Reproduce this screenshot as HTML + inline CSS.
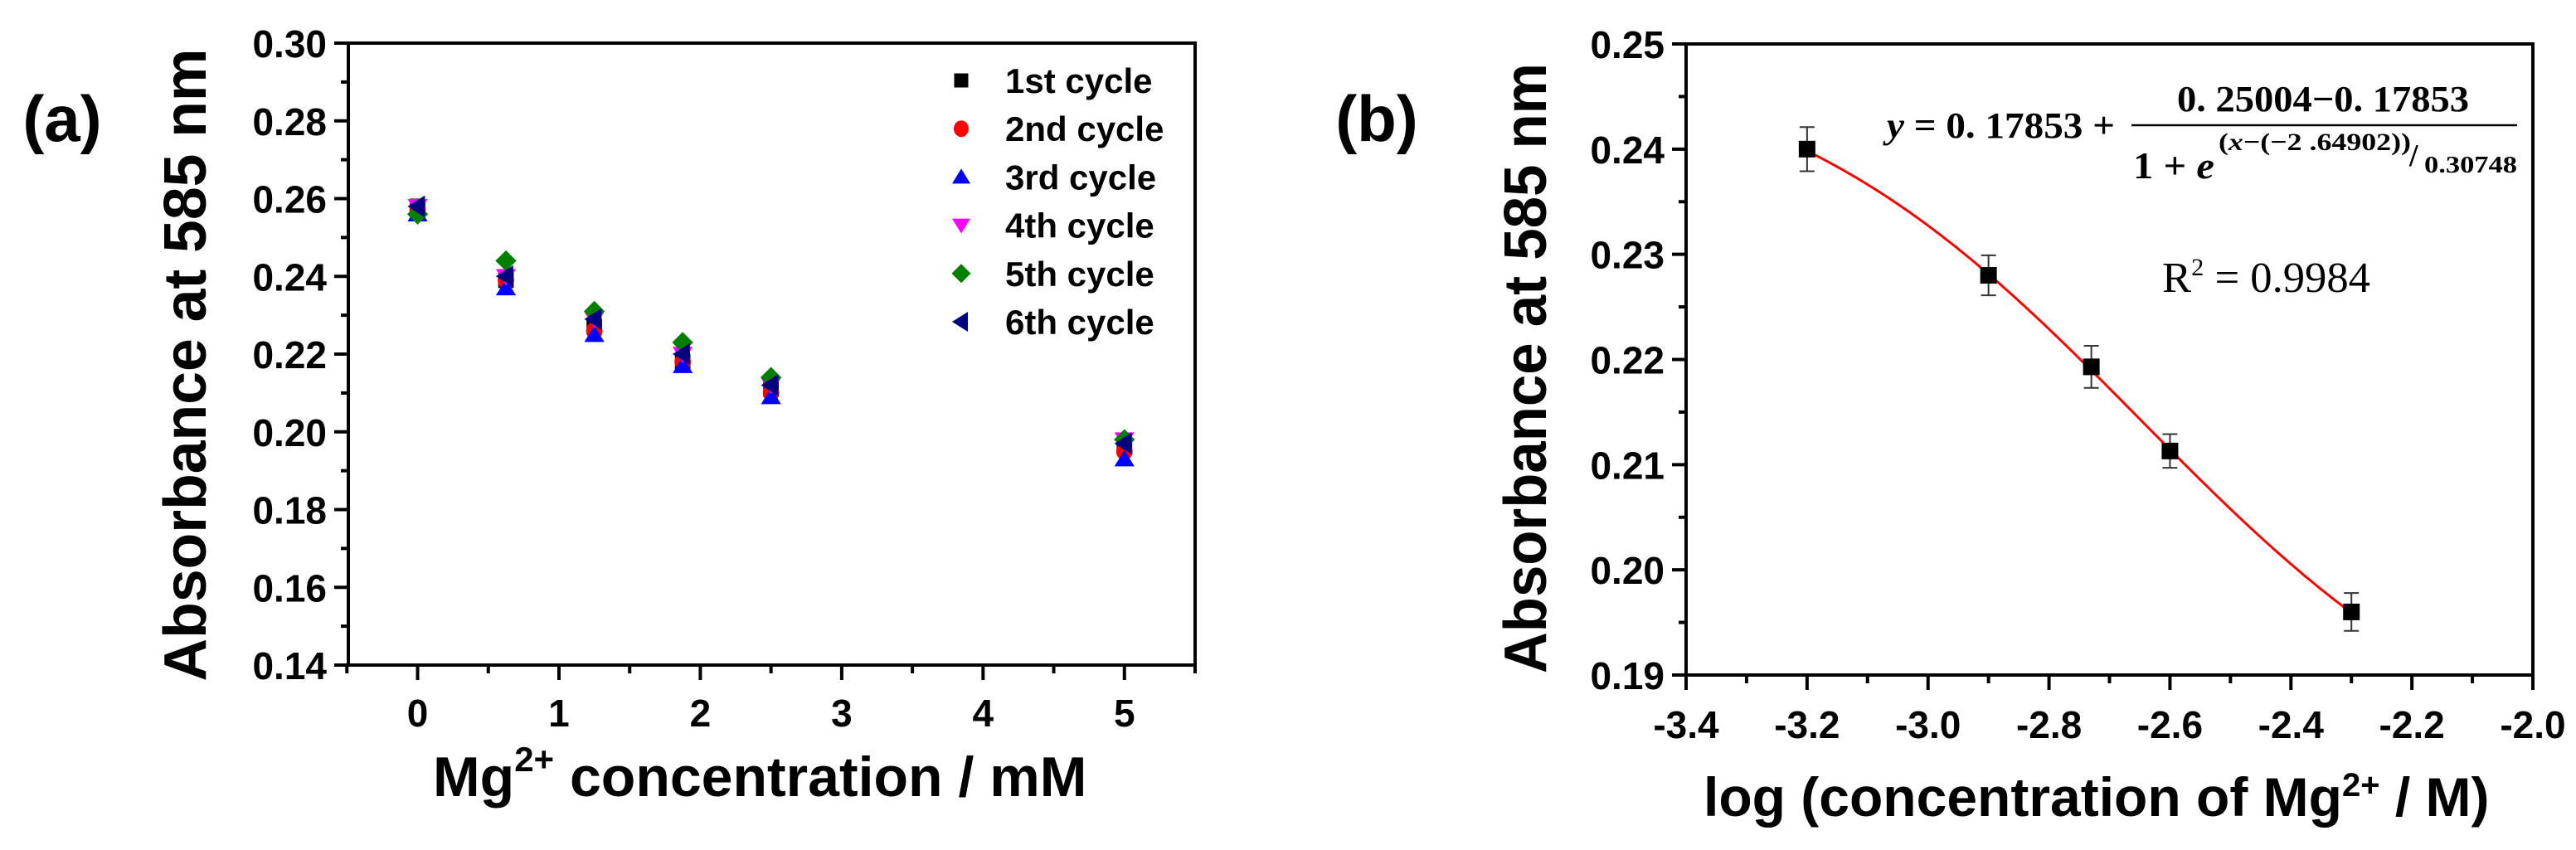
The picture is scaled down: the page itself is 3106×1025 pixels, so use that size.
<!DOCTYPE html>
<html><head><meta charset="utf-8"><style>
html,body{margin:0;padding:0;background:#fff;}
svg{display:block;}
text{font-family:"Liberation Sans",Arial,sans-serif;}
.tk{font-weight:bold;font-size:46px;}
.ser{font-family:"Liberation Serif","DejaVu Serif",serif;font-weight:bold;}
</style></head><body>
<svg id="fig" width="3106" height="1025" viewBox="0 0 3106 1025" xmlns="http://www.w3.org/2000/svg">
<text x="75" y="170" font-size="78" font-weight="bold" text-anchor="middle">(a)</text>
<text x="1660" y="170" font-size="78" font-weight="bold" text-anchor="middle">(b)</text>
<g id="pa"></g>
<g id="pb"></g>
</svg>
<script>
// ---------- Panel (a) data ----------
const aConc = [0, 0.625, 1.25, 1.875, 2.5, 5];
const aCycle1 = [0.258, 0.239, 0.227, 0.218, 0.211, 0.196];
const aCycle2 = [0.257, 0.239, 0.226, 0.218, 0.210, 0.195];
const aCycle3 = [0.256, 0.237, 0.225, 0.217, 0.209, 0.193];
const aCycle4 = [0.258, 0.240, 0.229, 0.220, 0.212, 0.198];
const aCycle5 = [0.256, 0.244, 0.231, 0.223, 0.214, 0.198];
const aCycle6 = [0.258, 0.240, 0.229, 0.220, 0.212, 0.197];
const aLegend = ["1st cycle","2nd cycle","3rd cycle","4th cycle","5th cycle","6th cycle"];
const aYTicks = [0.14,0.16,0.18,0.20,0.22,0.24,0.26,0.28,0.30];
const aXTicks = [0,1,2,3,4,5];
// ---------- Panel (b) data ----------
const bLogC = [-3.2, -2.9, -2.73, -2.6, -2.3];
const bAbs = [0.240, 0.228, 0.2193, 0.2113, 0.196];
const bErr = [0.0021, 0.0019, 0.0020, 0.0016, 0.0018];
const bFit = [0.17853, 0.25004, -2.64902, 0.30748]; // A2, A1, x0, dx
const bYTicks = [0.19,0.20,0.21,0.22,0.23,0.24,0.25];
const bXTicks = [-3.4,-3.2,-3.0,-2.8,-2.6,-2.4,-2.2,-2.0];

const NS="http://www.w3.org/2000/svg";
function mk(parent,tag,attrs,txt){const e=document.createElementNS(NS,tag);for(const k in attrs)e.setAttribute(k,attrs[k]);if(txt!==undefined)e.textContent=txt;parent.appendChild(e);return e;}

// ===== Panel a =====
const pa=document.getElementById('pa');
const aL=420,aR=1441,aT=52,aB=802,aX0=-0.49,aX1=5.5,aY0=0.14,aY1=0.30;
const ax=v=>aL+(v-aX0)/(aX1-aX0)*(aR-aL);
const ay=v=>aB-(v-aY0)/(aY1-aY0)*(aB-aT);
let e;
e=mk(pa,'rect',{x:aL,y:aT,width:aR-aL,height:aB-aT,fill:'none',stroke:'#000','stroke-width':4});


aYTicks.forEach((t,i)=>{
  const y=ay(t);
  const l=mk(pa,'line',{x1:aL-17,x2:aL,y1:y,y2:y,stroke:'#000','stroke-width':4});
  
  
  if(i<aYTicks.length-1){const ym=ay(t+0.01);const m=mk(pa,'line',{x1:aL-9,x2:aL,y1:ym,y2:ym,stroke:'#000','stroke-width':4});
  
  }
  const tx=mk(pa,'text',{x:aL-26,y:y+17,'text-anchor':'end',class:'tk','font-size':48},t.toFixed(2));
  
  
});
aXTicks.forEach(t=>{
  const x=ax(t);
  const l=mk(pa,'line',{x1:x,x2:x,y1:aB,y2:aB+18,stroke:'#000','stroke-width':4});
  
  
  const tx=mk(pa,'text',{x:x,y:876,'text-anchor':'middle',class:'tk','font-size':48},String(t));
  
  
});
[-0.5,0.5,1.5,2.5,3.5,4.5,5.5].forEach(t=>{
  const x=ax(t);
  const l=mk(pa,'line',{x1:x,x2:x,y1:aB,y2:aB+10,stroke:'#000','stroke-width':4});
  
  
});
function marker(g,type,cx,cy,s){
  const h=s/2;
  if(type===0) return mk(g,'rect',{x:cx-h*0.85,y:cy-h*0.85,width:s*0.85,height:s*0.85,fill:'#000'});
  if(type===1) return mk(g,'ellipse',{cx:cx,cy:cy,rx:h*0.9,ry:h,fill:'#ff0000'});
  if(type===2) return mk(g,'polygon',{points:`${cx},${cy-h} ${cx+h*1.1},${cy+h*0.8} ${cx-h*1.1},${cy+h*0.8}`,fill:'#0000ff'});
  if(type===3) return mk(g,'polygon',{points:`${cx},${cy+h} ${cx+h*1.1},${cy-h*0.8} ${cx-h*1.1},${cy-h*0.8}`,fill:'#ff00ff'});
  if(type===4) return mk(g,'polygon',{points:`${cx},${cy-h*1.15} ${cx+h*1.15},${cy} ${cx},${cy+h*1.15} ${cx-h*1.15},${cy}`,fill:'#008000'});
  return mk(g,'polygon',{points:`${cx-h*1.1},${cy} ${cx+h*0.8},${cy-h*1.2} ${cx+h*0.8},${cy+h*1.2}`,fill:'#000080'});
}
const aSeries=[aCycle1,aCycle2,aCycle3,aCycle4,aCycle5,aCycle6];
aSeries.forEach((ser,si)=>{
  const g=mk(pa,'g',{});
  
  
  ser.forEach((v,i)=>{
    const m=marker(g,si,ax(aConc[i]),ay(v),22);
    
    
  });
});
aLegend.forEach((lab,i)=>{
  const y=97+i*58.2;
  const g=mk(pa,'g',{});
  
  
  marker(g,i,1159,y,20);
  mk(g,'text',{x:1212,y:y+15,'font-size':42,'font-weight':'bold'},lab);
});
e=mk(pa,'text',{x:0,y:0,'font-size':72,'font-weight':'bold','text-anchor':'middle',transform:'translate(248,440) rotate(-90)',textLength:763,lengthAdjust:'spacingAndGlyphs'},'Absorbance at 585 nm');


e=mk(pa,'text',{x:522,y:960,'font-size':68,'font-weight':'bold'});


mk(e,'tspan',{},'Mg');
mk(e,'tspan',{dy:-30,'font-size':42},'2+');
mk(e,'tspan',{dy:30},' concentration / mM');

// ===== Panel b =====
const pb=document.getElementById('pb');
const bL=2033,bR=3054,bT=53,bB=814,bX0=-3.4,bX1=-2.0,bY0=0.19,bY1=0.25;
const bx=v=>bL+(v-bX0)/(bX1-bX0)*(bR-bL);
const by=v=>bB-(v-bY0)/(bY1-bY0)*(bB-bT);
e=mk(pb,'rect',{x:bL,y:bT,width:bR-bL,height:bB-bT,fill:'none',stroke:'#000','stroke-width':4});


bYTicks.forEach((t,i)=>{
  const y=by(t);
  const l=mk(pb,'line',{x1:bL-17,x2:bL,y1:y,y2:y,stroke:'#000','stroke-width':4});
  
  
  if(i<bYTicks.length-1){const ym=by(t+0.005);const m=mk(pb,'line',{x1:bL-9,x2:bL,y1:ym,y2:ym,stroke:'#000','stroke-width':4});
  
  }
  const tx=mk(pb,'text',{x:bL-26,y:y+17,'text-anchor':'end',class:'tk','font-size':49},t.toFixed(2));
  
  
});
bXTicks.forEach((t,i)=>{
  const x=bx(t);
  const l=mk(pb,'line',{x1:x,x2:x,y1:bB,y2:bB+18,stroke:'#000','stroke-width':4});
  
  
  if(i<bXTicks.length-1){const xm=bx(t+0.1);const m=mk(pb,'line',{x1:xm,x2:xm,y1:bB,y2:bB+10,stroke:'#000','stroke-width':4});
  
  }
  const tx=mk(pb,'text',{x:x,y:890,'text-anchor':'middle',class:'tk','font-size':50},t.toFixed(1));
  
  
});
// fit curve
let d='';
const fitX0=bLogC[0],fitX1=bLogC[bLogC.length-1];
for(let k=0;k<=200;k++){
  const xv=fitX0+(fitX1-fitX0)*k/200;
  const yv=bFit[0]+(bFit[1]-bFit[0])/(1+Math.exp((xv-bFit[2])/bFit[3]));
  d+=(k?'L':'M')+bx(xv).toFixed(1)+','+by(yv).toFixed(1);
}
e=mk(pb,'path',{d:d,fill:'none',stroke:'#ff0000','stroke-width':3});


bLogC.forEach((xv,i)=>{
  const x=bx(xv),y1=by(bAbs[i]+bErr[i]),y2=by(bAbs[i]-bErr[i]);
  const g=mk(pb,'g',{stroke:'#333','stroke-width':2});
  
  
  mk(g,'line',{x1:x,x2:x,y1:y1,y2:y2});
  mk(g,'line',{x1:x-9,x2:x+9,y1:y1,y2:y1});
  mk(g,'line',{x1:x-9,x2:x+9,y1:y2,y2:y2});
  const r=mk(pb,'rect',{x:x-10,y:by(bAbs[i])-10,width:20,height:20,fill:'#000'});
  
  
});
// equation
const eq=mk(pb,'g',{class:'ser'});


mk(eq,'text',{x:2275,y:166,'font-size':44,class:'ser',textLength:275,lengthAdjust:'spacingAndGlyphs'}).innerHTML='<tspan font-style="italic">y</tspan> = 0. 17853 +';
mk(eq,'text',{x:2625,y:134,'font-size':44,class:'ser',textLength:352,lengthAdjust:'spacingAndGlyphs'},'0. 25004−0. 17853');
mk(eq,'line',{x1:2570,x2:3035,y1:151,y2:151,stroke:'#000','stroke-width':2.5});
mk(eq,'text',{x:2572,y:215,'font-size':46,class:'ser',textLength:98,lengthAdjust:'spacingAndGlyphs'}).innerHTML='1 +  <tspan font-style="italic">e</tspan>';
mk(eq,'text',{x:2675,y:181,'font-size':30,class:'ser',textLength:232,lengthAdjust:'spacingAndGlyphs'}).innerHTML='(<tspan font-style="italic">x</tspan>−(−2 .64902))';
mk(eq,'text',{x:2905,y:200,'font-size':38,class:'ser'},'/');
mk(eq,'text',{x:2923,y:208,'font-size':28,class:'ser',textLength:112,lengthAdjust:'spacingAndGlyphs'},'0.30748');
e=mk(pb,'text',{x:2607,y:352,'font-size':52,class:'ser',textLength:251,lengthAdjust:'spacingAndGlyphs'});


e.style.fontWeight='normal';
e.innerHTML='R<tspan dy="-20" font-size="30">2</tspan><tspan dy="20"> = 0.9984</tspan>';
e=mk(pb,'text',{x:0,y:0,'font-size':72,'font-weight':'bold','text-anchor':'middle',transform:'translate(1864,444) rotate(-90)',textLength:736,lengthAdjust:'spacingAndGlyphs'},'Absorbance at 585 nm');


e=mk(pb,'text',{x:2054,y:984,'font-size':66,'font-weight':'bold'});


mk(e,'tspan',{},'log (concentration of Mg');
mk(e,'tspan',{dy:-24,'font-size':40},'2+');
mk(e,'tspan',{dy:24},' / M)');
</script>
</body></html>
